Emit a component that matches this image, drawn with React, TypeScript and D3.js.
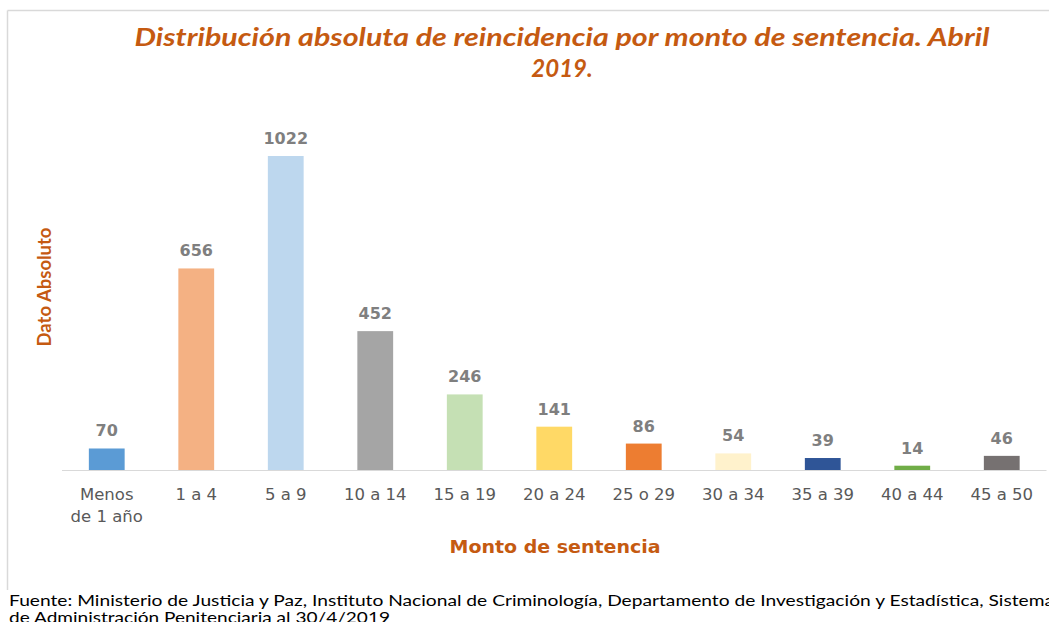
import React from "react";
import * as d3 from "d3";

const categories = ["Menos de 1 año", "1 a 4", "5 a 9", "10 a 14", "15 a 19", "20 a 24", "25 o 29", "30 a 34", "35 a 39", "40 a 44", "45 a 50"];
const values = [70, 656, 1022, 452, 246, 141, 86, 54, 39, 14, 46];
const colors = ["#5B9BD5", "#F4B183", "#BDD7EE", "#A5A5A5", "#C5E0B4", "#FFD966", "#ED7D31", "#FFF2CC", "#2F5597", "#70AD47", "#767171"];
const titleLines = ["Distribución absoluta de reincidencia por monto de sentencia. Abril", "2019."];
const yTitle = "Dato Absoluto";
const xTitle = "Monto de sentencia";
const sourceLines = [
  "Fuente: Ministerio de Justicia y Paz, Instituto Nacional de Criminología, Departamento de Investigación y Estadística, Sistema",
  "de Administración Penitenciaria al 30/4/2019",
];

export default function App() {
  const W = 1049, H = 622;
  const left = 62, right = 1046.5, baseY = 470, top = 156;
  const x = d3.scaleBand<string>().domain(categories).range([left, right]).paddingInner(0.6).paddingOuter(0.3);
  const y = d3.scaleLinear().domain([0, 1022]).range([baseY, top]);
  const titleColor = "#C55A11";

  const wrap = (s: string) => {
    if (s === "Menos de 1 año") return ["Menos", "de 1 año"];
    return [s];
  };

  return (
    <svg width={W} height={H} style={{ position: "absolute", left: 0, top: 0, background: "#fff" }}>
      <rect x={0} y={0} width={W} height={H} fill="#fff" />
      <line x1={7.5} y1={10.5} x2={W} y2={10.5} stroke="#D9D9D9" strokeWidth={1.5} />
      <line x1={7.5} y1={10.5} x2={7.5} y2={590} stroke="#D9D9D9" strokeWidth={1.5} />

      <g fontFamily="Lato, 'Open Sans', sans-serif" fontWeight="bold" fontStyle="italic" fill={titleColor} fontSize={24} textAnchor="middle">
        <text x={562} y={46} textLength={855} lengthAdjust="spacingAndGlyphs">{titleLines[0]}</text>
        <text x={562} y={77}>{titleLines[1]}</text>
      </g>

      <text transform={`translate(51,287) rotate(-90)`} textAnchor="middle" fontFamily="Lato, sans-serif" fontWeight="bold" fontSize={19} fill={titleColor} textLength={119} lengthAdjust="spacingAndGlyphs">{yTitle}</text>

      <line x1={left} x2={right} y1={baseY + 0.5} y2={baseY + 0.5} stroke="#D9D9D9" strokeWidth={1} />

      {categories.map((c, i) => (
        <g key={c}>
          <rect x={x(c)!} y={y(values[i])} width={x.bandwidth()} height={baseY - y(values[i])} fill={colors[i]} />
          <text x={x(c)! + x.bandwidth() / 2} y={y(values[i]) - 12} textAnchor="middle" fontFamily="'DejaVu Sans', sans-serif" fontWeight="bold" fontSize={16} fill="#7F7F7F">{values[i]}</text>
          {wrap(c).map((t, j) => (
            <text key={j} x={x(c)! + x.bandwidth() / 2} y={500 + j * 22} textAnchor="middle" fontFamily="'DejaVu Sans', sans-serif" fontSize={16.5} fill="#595959">{t}</text>
          ))}
        </g>
      ))}

      <text x={555} y={553} textAnchor="middle" fontFamily="'DejaVu Sans', sans-serif" fontWeight="bold" fontSize={18.5} fill={titleColor} textLength={211} lengthAdjust="spacingAndGlyphs">{xTitle}</text>

      <g fontFamily="Lato, sans-serif" fontSize={16} fill="#000">
        <text x={9} y={606} textLength={1045} lengthAdjust="spacingAndGlyphs">{sourceLines[0]}</text>
        <text x={9} y={623} textLength={381} lengthAdjust="spacingAndGlyphs">{sourceLines[1]}</text>
      </g>
    </svg>
  );
}
